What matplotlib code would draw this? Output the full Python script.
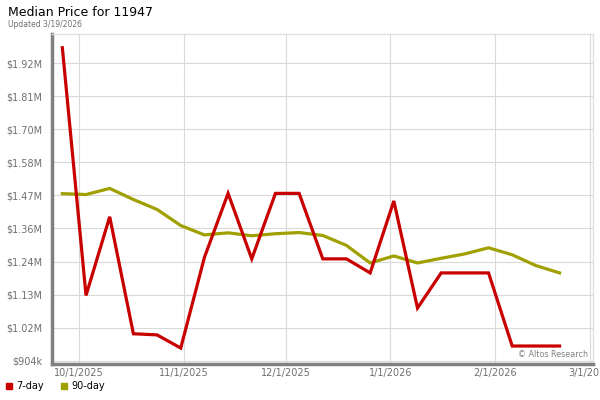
import datetime as dt
import matplotlib
matplotlib.use("Agg")
import matplotlib.pyplot as plt
import matplotlib.dates as mdates
from matplotlib.lines import Line2D

# weekly points, 9/26/2025 .. 2/20/2026
start = dt.date(2025, 9, 26)
weeks = [start + dt.timedelta(days=7 * i) for i in range(22)]

price_7day = [1974000, 1127000, 1396000, 996000, 992000, 947000, 1257000, 1476000,
              1252000, 1476000, 1476000, 1252000, 1252000, 1204000, 1450000, 1084000,
              1204000, 1204000, 1204000, 954000, 954000, 954000]
price_90day = [1475000, 1472000, 1493000, 1455000, 1421000, 1366000, 1334000, 1341000,
               1331000, 1338000, 1342000, 1332000, 1298000, 1238000, 1262000, 1238000,
               1254000, 1269000, 1290000, 1266000, 1229000, 1204000]

ytick_vals = [904000 + 113000 * i for i in range(10)]
ytick_labels = ["$904k", "$1.02M", "$1.13M", "$1.24M", "$1.36M", "$1.47M",
                "$1.58M", "$1.70M", "$1.81M", "$1.92M"]
xtick_dates = [dt.date(2025, 10, 1), dt.date(2025, 11, 1), dt.date(2025, 12, 1),
               dt.date(2026, 1, 1), dt.date(2026, 2, 1), dt.date(2026, 3, 1)]
xtick_labels = ["10/1/2025", "11/1/2025", "12/1/2025", "1/1/2026", "2/1/2026", "3/1/2026"]

red = "#c80000"
olive = "#a0a000"
gray = "#808080"

fig = plt.figure(figsize=(6, 4), dpi=100)
ax = fig.add_axes([0.087, 0.09, 0.902, 0.825])

ax.plot(weeks, price_90day, color=olive, lw=2.3, solid_joinstyle="miter", zorder=3)
ax.plot(weeks, price_7day, color=red, lw=2.3, solid_joinstyle="miter", zorder=4)

ax.set_xlim(dt.date(2025, 9, 23), dt.date(2026, 3, 2))
ax.set_ylim(892500, 2021000)

ax.set_yticks(ytick_vals)
ax.set_yticklabels(ytick_labels)
ax.set_xticks([mdates.date2num(d) for d in xtick_dates])
ax.set_xticklabels(xtick_labels)
ax.tick_params(length=0, labelsize=7, labelcolor="#707070", pad=7)
ax.tick_params(axis="x", pad=3)

ax.grid(True, color="#d9d9d9", lw=0.8)
ax.set_axisbelow(True)

for s in ["left", "bottom"]:
    ax.spines[s].set_color(gray)
    ax.spines[s].set_linewidth(2.5)
for s in ["top", "right"]:
    ax.spines[s].set_color("#e0e0e0")
    ax.spines[s].set_linewidth(1)

ax.text(0.99, 0.015, "© Altos Research", transform=ax.transAxes, ha="right",
        va="bottom", fontsize=5.8, color="#808080")

fig.text(0.013, 0.97, "Median Price for 11947", fontsize=9, va="center", ha="left")
fig.text(0.013, 0.938, "Updated 3/19/2026", fontsize=5.5, color="#707070",
         va="center", ha="left")

handles = [Line2D([], [], marker="s", ls="", color=red, markersize=4),
           Line2D([], [], marker="s", ls="", color=olive, markersize=4)]
fig.legend(handles, ["7-day", "90-day"], loc="center left",
           bbox_to_anchor=(0.0, 0.035), ncol=2, frameon=False, fontsize=7,
           handletextpad=0.3, columnspacing=1.5, handlelength=1.0, borderaxespad=0)

fig.savefig("out.png", dpi=100)
